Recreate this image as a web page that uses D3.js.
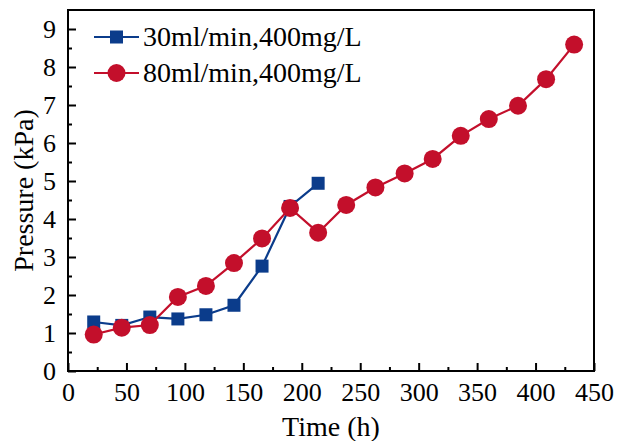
<!DOCTYPE html>
<html><head><meta charset="utf-8">
<script src="https://cdn.jsdelivr.net/npm/d3@7"></script>
<style>body{margin:0;background:#fff}svg{display:block}svg text{font-family:"Times New Roman",Times,"Liberation Serif",Tinos,serif !important;fill:#000}</style>
</head><body><div id="c"></div>
<script>
const timeBlue = [22,46,70,94,118,142,166,190,214];
const pressureBlue = [1.29,1.20,1.42,1.37,1.48,1.73,2.76,4.33,4.94];
const timeRed = [22,46,70,94,118,142,166,190,214,238,263,288,312,336,360,385,409,433];
const pressureRed = [0.96,1.14,1.21,1.95,2.24,2.84,3.49,4.29,3.64,4.37,4.83,5.20,5.58,6.19,6.63,6.98,7.68,8.59];
const seriesNames = ["30ml/min,400mg/L","80ml/min,400mg/L"];
const xTicks = [0,50,100,150,200,250,300,350,400,450];
const yTicks = [0,1,2,3,4,5,6,7,8,9];

const W=617,H=441, L=68, T=10, R=594, B=371;
const blue="#0b3c8b", red="#c30f2b";
const svg=d3.select("#c").append("svg").attr("width",W).attr("height",H);
const x=d3.scaleLinear().domain([0,450]).range([L,R]);
const y=d3.scaleLinear().domain([0,9.5]).range([B,T]);

svg.append("rect").attr("x",L).attr("y",T).attr("width",R-L).attr("height",B-T)
  .attr("fill","none").attr("stroke","#000").attr("stroke-width",2);

const xa=svg.append("g").attr("transform",`translate(0,${B})`)
  .call(d3.axisBottom(x).tickValues(xTicks).tickSize(-8).tickPadding(12).tickFormat(d3.format("d")));
xa.select(".domain").remove();
xa.selectAll("line").attr("stroke","#000").attr("stroke-width",2);
xa.selectAll("text").style("font-size","26px");
const xm=svg.append("g").attr("transform",`translate(0,${B})`)
  .call(d3.axisBottom(x).tickValues(d3.range(25,450,50)).tickSize(-4).tickFormat(""));
xm.select(".domain").remove();
xm.selectAll("line").attr("stroke","#000").attr("stroke-width",2);

const ya=svg.append("g").attr("transform",`translate(${L},0)`)
  .call(d3.axisLeft(y).tickValues(yTicks).tickSize(-8).tickPadding(12).tickFormat(d3.format("d")));
ya.select(".domain").remove();
ya.selectAll("line").attr("stroke","#000").attr("stroke-width",2);
ya.selectAll("text").style("font-size","26px");
const ym=svg.append("g").attr("transform",`translate(${L},0)`)
  .call(d3.axisLeft(y).tickValues(d3.range(0.5,9.5,1)).tickSize(-4).tickFormat(""));
ym.select(".domain").remove();
ym.selectAll("line").attr("stroke","#000").attr("stroke-width",2);

svg.append("text").attr("x",(L+R)/2).attr("y",436).attr("text-anchor","middle")
  .style("font-size","28px").text("Time (h)");
svg.append("text").attr("transform",`translate(33,${(T+B)/2}) rotate(-90)`).attr("text-anchor","middle")
  .style("font-size","28px").text("Pressure (kPa)");

const line=d3.line().x(d=>x(d[0])).y(d=>y(d[1]));
const blueData=timeBlue.map((t,i)=>[t,pressureBlue[i]]);
const redData=timeRed.map((t,i)=>[t,pressureRed[i]]);

svg.append("path").datum(blueData).attr("d",line).attr("fill","none").attr("stroke",blue).attr("stroke-width",2.2);
svg.selectAll(".sq").data(blueData).enter().append("rect")
  .attr("x",d=>x(d[0])-6.5).attr("y",d=>y(d[1])-6.5).attr("width",13).attr("height",13).attr("fill",blue);
svg.append("path").datum(redData).attr("d",line).attr("fill","none").attr("stroke",red).attr("stroke-width",2.2);
svg.selectAll(".ci").data(redData).enter().append("circle")
  .attr("cx",d=>x(d[0])).attr("cy",d=>y(d[1])).attr("r",9).attr("fill",red);

const lg=svg.append("g");
[[blue,37,"sq"],[red,73,"ci"]].forEach((s,i)=>{
  lg.append("line").attr("x1",94).attr("x2",139).attr("y1",s[1]).attr("y2",s[1]).attr("stroke",s[0]).attr("stroke-width",2.2);
  if(s[2]==="sq") lg.append("rect").attr("x",110).attr("y",s[1]-6.5).attr("width",13).attr("height",13).attr("fill",s[0]);
  else lg.append("circle").attr("cx",116.5).attr("cy",s[1]).attr("r",9).attr("fill",s[0]);
  lg.append("text").attr("x",143).attr("y",s[1]+9).style("font-size","28px").text(seriesNames[i]);
});
</script></body></html>
